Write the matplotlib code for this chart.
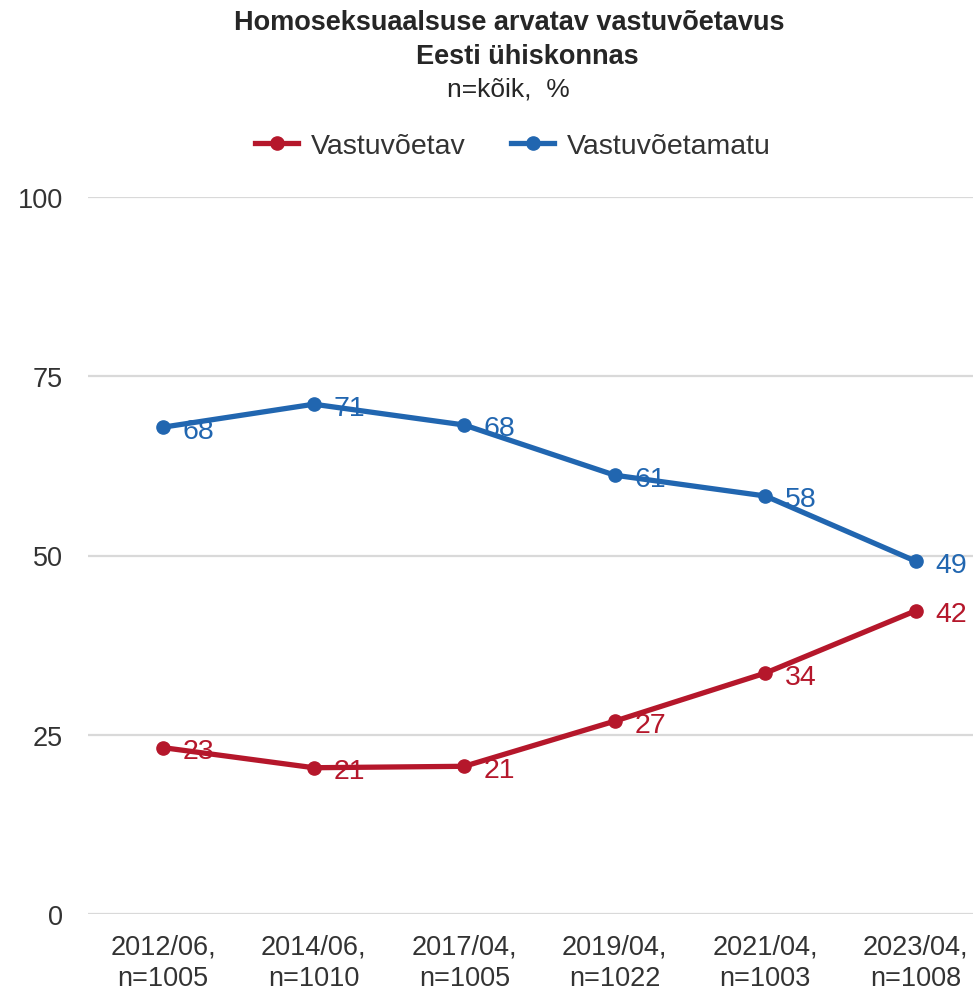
import matplotlib.pyplot as plt

plt.rcParams['font.family'] = ['Liberation Sans', 'DejaVu Sans']

# Survey waves
categories = ["2012/06,\nn=1005", "2014/06,\nn=1010", "2017/04,\nn=1005",
              "2019/04,\nn=1022", "2021/04,\nn=1003", "2023/04,\nn=1008"]

# Line values (point positions) and their printed labels
vastuvoetav = [23.2, 20.4, 20.6, 26.9, 33.6, 42.3]
vastuvoetav_labels = [23, 21, 21, 27, 34, 42]
vastuvoetamatu = [67.9, 71.1, 68.2, 61.2, 58.3, 49.2]
vastuvoetamatu_labels = [68, 71, 68, 61, 58, 49]

red = '#B5172B'
blue = '#2166B0'

fig = plt.figure(figsize=(9.73, 9.95), dpi=100)
ax = fig.add_axes([88 / 973, 1 - 915 / 995, 1 - 88 / 973, (915 - 198) / 995])

x = list(range(len(categories)))
ax.plot(x, vastuvoetav, color=red, lw=3.8, marker='o', ms=9.5, label='Vastuvõetav', zorder=3)
ax.plot(x, vastuvoetamatu, color=blue, lw=3.8, marker='o', ms=9.5, label='Vastuvõetamatu', zorder=3)

for xi, v, lab in zip(x, vastuvoetav, vastuvoetav_labels):
    ax.annotate(str(lab), (xi, v), xytext=(14, -2.5), textcoords='offset points',
                ha='left', va='center', fontsize=20.5, color=red, zorder=4)
for xi, v, lab in zip(x, vastuvoetamatu, vastuvoetamatu_labels):
    ax.annotate(str(lab), (xi, v), xytext=(14, -2.5), textcoords='offset points',
                ha='left', va='center', fontsize=20.5, color=blue, zorder=4)

ax.set_xlim(-0.5, 5.38)
ax.set_ylim(0, 100)
ax.set_yticks([0, 25, 50, 75, 100])
ax.set_xticks(x)
ax.set_xticklabels(categories, linespacing=1.3)
ax.tick_params(axis='both', length=0, labelsize=19.5, colors='#333333')
ax.tick_params(axis='y', pad=18)
ax.tick_params(axis='x', pad=14)
ax.grid(axis='y', color='#D9D9D9', lw=1.6, zorder=0)
ax.set_axisbelow(True)
for s in ax.spines.values():
    s.set_visible(False)

# Title block
fig.text(509 / 973, 1 - 23 / 995, 'Homoseksuaalsuse arvatav vastuvõetavus', ha='center', va='center',
         fontsize=19.5, fontweight='bold', color='#262626')
fig.text(527 / 973, 1 - 57 / 995, 'Eesti ühiskonnas', ha='center', va='center',
         fontsize=19.5, fontweight='bold', color='#262626')
fig.text(508 / 973, 1 - 89 / 995, 'n=kõik,  %', ha='center', va='center',
         fontsize=19, color='#262626')

fig.legend(loc='center', bbox_to_anchor=(513 / 973, 1 - 147 / 995), ncol=2, frameon=False,
           fontsize=20.5, handlelength=1.5, handletextpad=0.45, columnspacing=1.6,
           labelcolor='#333333')

fig.savefig('out.png', dpi=100)
